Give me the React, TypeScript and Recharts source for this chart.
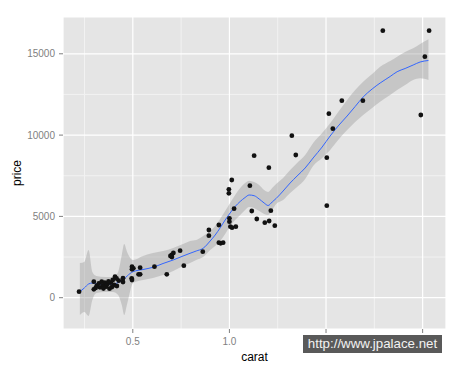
import React from 'react';
import {
  ComposedChart,
  Area,
  Line,
  Scatter,
  XAxis,
  YAxis,
  CartesianGrid,
  Label,
} from 'recharts';

// Observed diamonds (carat, price)
const pointCarat = [
  0.34, 0.378, 0.378, 0.386, 0.392, 0.395, 0.4, 0.404, 0.409, 0.413, 0.417, 0.423,
  0.427, 0.433, 0.437, 0.44, 0.446, 0.452, 0.466, 0.466, 0.383, 0.405, 0.42, 0.43,
  0.445, 0.497, 0.502, 0.497, 0.496, 0.497, 0.527, 0.521, 0.527, 0.584, 0.638,
  0.661, 0.669, 0.662, 0.655, 0.702, 0.721, 0.826, 0.863, 0.863, 0.927, 0.927,
  0.939, 0.956, 0.996, 0.996, 1.017, 1.0, 1.0, 1.007, 1.019, 1.047, 1.034, 1.158,
  1.174, 1.194, 1.217, 1.289, 1.33, 1.327, 1.346, 1.385, 1.565, 1.61, 2.011, 2.011,
  2.041, 2.1, 2.24, 2.605, 3.006, 3.948, 4.064, 4.19,
];
const pointPrice = [
  370, 985, 515, 740, 885, 640, 985, 760, 925, 680, 840, 555,
  925, 1090, 780, 1290, 720, 1045, 965, 1195, 600, 560, 1000, 650,
  1180, 1907, 1808, 1747, 1193, 1089, 1845, 1439, 1439, 1907, 1439,
  2626, 2749, 2503, 2565, 2890, 1968, 2829, 4164, 3813, 4471, 3383,
  3346, 3383, 6667, 6421, 7239, 4883, 4674, 4367, 4305, 4367, 5474, 6888,
  5332, 8733, 4840, 4613, 4717, 7995, 5351, 4428, 9963, 8776, 8610, 5658,
  11316, 10394, 12116, 12116, 16421, 11236, 14822, 16421,
];

// Loess smooth with confidence band
const smoothCarat = [
  0.342, 0.353, 0.364, 0.374, 0.385, 0.41, 0.434, 0.45, 0.462, 0.47, 0.48, 0.501,
  0.538, 0.578, 0.621, 0.668, 0.717, 0.754, 0.788, 0.828, 0.871, 0.903, 0.935,
  0.97, 1.005, 1.042, 1.08, 1.119, 1.152, 1.194, 1.238, 1.283, 1.32, 1.359, 1.398,
  1.47, 1.546, 1.625, 1.722, 1.823, 1.945, 2.06, 2.182, 2.327, 2.465, 2.61, 2.784,
  2.949, 3.168, 3.331, 3.528, 3.737, 3.929, 4.17,
];
const smoothFit = [
  369, 597, 843, 904, 843, 812, 824, 935, 1046, 1150, 1335, 1599,
  1734, 1870, 2103, 2319, 2565, 2731, 2872, 3038, 3487, 3856, 4287,
  4779, 5209, 5609, 5916, 6162, 6316, 6273, 6070, 5824, 5670, 5886, 6101,
  6562, 7054, 7485, 7977, 8592, 9268, 9945, 10560, 11174, 11759, 12343, 12835,
  13204, 13604, 13899, 14096, 14311, 14496, 14588,
];
const smoothLow = [
  -1064, -880, -1125, -141, 289, 351, 351, 166, -449, -1064, -387, 904,
  1089, 1212, 1396, 1642, 1950, 2134, 2319, 2503, 2934, 3180, 3487,
  3918, 4410, 4779, 5086, 5394, 5578, 5517, 5332, 5148, 5086, 5394, 5763,
  6009, 6439, 6808, 7300, 8100, 8592, 9084, 9699, 10314, 10806, 11236, 11667,
  12054, 12466, 12774, 13081, 13389, 13493, 13389,
];
const smoothHigh = [
  2134, 2196, 2934, 1581, 1335, 1273, 1273, 1581, 2626, 3303, 2811, 2319,
  2565, 2749, 2872, 3057, 3303, 3487, 3549, 3795, 4102, 4410, 4840,
  5332, 5824, 6316, 6747, 7054, 7196, 7116, 6931, 6624, 6501, 6747, 6993,
  7362, 7854, 8284, 8776, 9514, 10129, 10726, 11420, 12159, 12774, 13284, 13758,
  14207, 14557, 14822, 15111, 15338, 15603, 15892,
];

const caratTicks = [0.5, 1, 2, 4];
// labels for 2 and 4 sit under the watermark in the original, so left blank
const caratTickLabels = ['0.5', '1.0', '', ''];
const caratMinor = [0.3536, 0.7071, 1.4142, 2.8284];
const priceTicks = [0, 5000, 10000, 15000];
const priceMinor = [2500, 7500, 12500];

const points = pointCarat.map((c, i) => ({ carat: c, price: pointPrice[i] }));
const smooth = smoothCarat.map((c, i) => ({
  carat: c,
  fit: smoothFit[i],
  band: [smoothLow[i], smoothHigh[i]],
}));

const font = '"Liberation Sans", Arial, sans-serif';
const tickStyle = { fontSize: 10, fill: '#7F7F7F', fontFamily: font };

const PriceLabel = ({ viewBox }: any) => {
  const x = viewBox.x + 21;
  const y = viewBox.y + viewBox.height / 2;
  return (
    <text
      x={x}
      y={y}
      transform={`rotate(-90, ${x}, ${y})`}
      textAnchor="middle"
      fontSize={12}
      fontFamily={font}
      fill="#000"
    >
      price
    </text>
  );
};

const App: React.FC = () => {
  return (
    <div
      style={{
        position: 'absolute',
        left: 0,
        top: 0,
        width: 461,
        height: 369,
        background: '#fff',
      }}
    >
      <ComposedChart
        width={461}
        height={369}
        margin={{ top: 17, right: 15, bottom: 0, left: 0 }}
      >
        <CartesianGrid
          fill="#E5E5E5"
          stroke="#F2F2F2"
          strokeWidth={1}
          horizontalValues={priceMinor}
          verticalValues={caratMinor}
        />
        <CartesianGrid stroke="#FFFFFF" strokeWidth={1.2} />
        <XAxis
          dataKey="carat"
          type="number"
          scale="log"
          domain={[0.303, 4.73]}
          allowDataOverflow
          ticks={caratTicks}
          tickFormatter={(v: number) => caratTickLabels[caratTicks.indexOf(v)] ?? ''}
          tick={tickStyle}
          tickSize={4}
          tickMargin={5}
          tickLine={{ stroke: '#7F7F7F' }}
          axisLine={false}
          height={40}
        >
          <Label
            value="carat"
            position="insideBottom"
            offset={8}
            style={{ fontSize: 12, fontFamily: font, fill: '#000' }}
          />
        </XAxis>
        <YAxis
          type="number"
          domain={[-1925, 17263]}
          allowDataOverflow
          ticks={priceTicks}
          tick={tickStyle}
          tickSize={4}
          tickMargin={4}
          tickLine={{ stroke: '#7F7F7F' }}
          axisLine={false}
          width={63}
        >
          <Label content={<PriceLabel />} />
        </YAxis>
        <Area
          data={smooth}
          dataKey="band"
          type="monotone"
          stroke="none"
          fill="#999999"
          fillOpacity={0.4}
          isAnimationActive={false}
        />
        <Line
          data={smooth}
          dataKey="fit"
          type="monotone"
          stroke="#3366FF"
          strokeWidth={1}
          dot={false}
          activeDot={false}
          isAnimationActive={false}
        />
        <Scatter
          data={points}
          dataKey="price"
          fill="#111111"
          shape={(p: any) => <circle cx={p.cx} cy={p.cy} r={2.4} fill="#111111" />}
          isAnimationActive={false}
        />
      </ComposedChart>
      <div
        style={{
          position: 'absolute',
          left: 303,
          top: 335,
          width: 139,
          height: 18,
          background: '#595959',
          color: '#F2F2F2',
          fontFamily: font,
          fontSize: 13.3,
          lineHeight: '18px',
          textAlign: 'center',
          whiteSpace: 'nowrap',
        }}
      >
        http://www.jpalace.net
      </div>
    </div>
  );
};

export default App;
